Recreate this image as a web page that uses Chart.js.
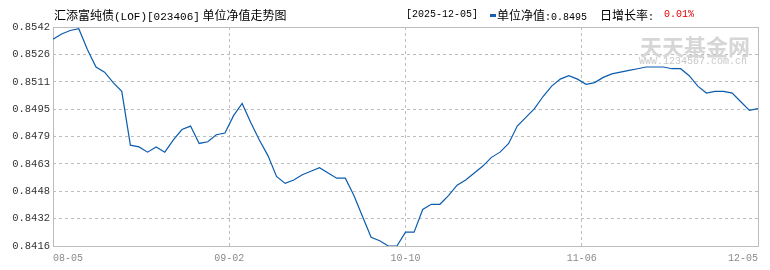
<!DOCTYPE html>
<html>
<head>
<meta charset="utf-8">
<script src="https://cdn.jsdelivr.net/npm/chart.js@4/dist/chart.umd.min.js"></script>
<style>
  html, body { margin: 0; padding: 0; background: #fff; }
  #wrap { position: relative; width: 770px; height: 270px; overflow: hidden; }
  #c { position: absolute; left: 0; top: 0; }
  .t { position: absolute; white-space: pre; font-family: "Noto Sans CJK SC", sans-serif; font-size: 12px; line-height: 12px; color: #000; }
  .m { font-family: "Liberation Mono", monospace; }
</style>
</head>
<body>
<div id="wrap">
  <canvas id="c" width="770" height="270"></canvas>
  <div class="t" style="left:640px;top:33px;font-size:22px;line-height:24px;font-weight:bold;color:#d6d6d6;">天天基金网</div>
  <div class="t m" style="left:639px;top:57px;font-size:10px;line-height:10px;color:#c8c8c8;">WWW.1234567.com.cn</div>
  <div class="t" style="left:54px;top:9px;">汇添富纯债<span class="m" style="font-size:11px;">(LOF)[023406]</span> 单位净值走势图</div>
  <div class="t m" style="left:406px;top:9px;font-size:10px;">[2025-12-05]</div>
  <div style="position:absolute;left:490px;top:14px;width:6px;height:3px;background:#1a5eb0;"></div>
  <div class="t" style="left:497px;top:9px;">单位净值<span class="m" style="font-size:10px;">:0.8495</span></div>
  <div class="t" style="left:600px;top:9px;">日增长率<span class="m" style="font-size:10px;">:</span></div>
  <div class="t m" style="left:664px;top:9px;font-size:10px;color:#e00000;">0.01%</div>
</div>
<script>
const navValues = [
  0.8535, 0.8538, 0.8540, 0.8541, 0.8529, 0.8519, 0.8516, 0.8510, 0.8505, 0.8474,
  0.8473, 0.8470, 0.8473, 0.8470, 0.8477, 0.8483, 0.8485, 0.8475, 0.8476, 0.8480,
  0.8481, 0.8491, 0.8498, 0.8487, 0.8477, 0.8468, 0.8456, 0.8452, 0.8454, 0.8457,
  0.8459, 0.8461, 0.8458, 0.8455, 0.8455, 0.8445, 0.8433, 0.8421, 0.8419, 0.8416,
  0.8416, 0.8424, 0.8424, 0.8437, 0.8440, 0.8440, 0.8445, 0.8451, 0.8454, 0.8458,
  0.8462, 0.8467, 0.8470, 0.8475, 0.8485, 0.8490, 0.8495, 0.8502, 0.8508, 0.8512,
  0.8514, 0.8512, 0.8509, 0.8510, 0.8513, 0.8515, 0.8516, 0.8517, 0.8518, 0.8519,
  0.8519, 0.8519, 0.8518, 0.8518, 0.8514, 0.8508, 0.8504, 0.8505, 0.8505, 0.8504,
  0.8499, 0.8494, 0.8495
];
const xTickLabels = ['08-05', '09-02', '10-10', '11-06', '12-05'];
const yTickLabels = ['0.8416', '0.8432', '0.8448', '0.8463', '0.8479', '0.8495', '0.8511', '0.8526', '0.8542'];

const n = navValues.length;
const yMin = parseFloat(yTickLabels[0]);
const yMax = parseFloat(yTickLabels[yTickLabels.length - 1]);
const points = navValues.map((v, i) => ({ x: i, y: v }));

const borderPlugin = {
  id: 'frame',
  beforeDatasetsDraw(chart) {
    const { ctx, chartArea: a } = chart;
    ctx.save();
    ctx.strokeStyle = '#bdbdbd';
    ctx.lineWidth = 1;
    ctx.setLineDash([]);
    ctx.strokeRect(Math.round(a.left) + 0.5, Math.round(a.top) + 0.5,
      Math.round(a.right - a.left), Math.round(a.bottom - a.top));
    ctx.restore();
  }
};

Chart.defaults.font.family = '"Liberation Mono", monospace';
Chart.defaults.font.size = 10;

new Chart(document.getElementById('c'), {
  type: 'line',
  data: {
    datasets: [{
      data: points,
      borderColor: '#0b5cad',
      borderWidth: 1.2,
      pointRadius: 0,
      tension: 0,
      fill: false
    }]
  },
  options: {
    responsive: false,
    animation: false,
    devicePixelRatio: 1,
    layout: { padding: { top: 27, right: 12, left: 0, bottom: 0 } },
    plugins: { legend: { display: false }, tooltip: { enabled: false }, title: { display: false } },
    scales: {
      x: {
        type: 'linear',
        min: 0,
        max: n - 1,
        afterBuildTicks(scale) {
          const k = xTickLabels.length - 1;
          scale.ticks = xTickLabels.map((_, j) => ({ value: j * (n - 1) / k }));
        },
        afterFit(scale) { scale.height = 24; },
        border: { display: false, dash: [3, 3] },
        grid: {
          drawTicks: false,
          color: (c) => (c.index === 0 || c.index === xTickLabels.length - 1) ? 'rgba(0,0,0,0)' : '#bdbdbd',
          lineWidth: 1
        },
        ticks: {
          autoSkip: false,
          maxRotation: 0,
          align: 'inner',
          padding: 6,
          color: '#8a8a8a',
          font: { size: 10 },
          callback: (v, i) => xTickLabels[i]
        }
      },
      y: {
        type: 'linear',
        min: yMin,
        max: yMax,
        afterBuildTicks(scale) {
          const k = yTickLabels.length - 1;
          scale.ticks = yTickLabels.map((_, j) => ({ value: yMin + j * (yMax - yMin) / k }));
        },
        afterFit(scale) { scale.width = 53; },
        border: { display: false, dash: [3, 3] },
        grid: {
          drawTicks: false,
          color: (c) => (c.index === 0 || c.index === yTickLabels.length - 1) ? 'rgba(0,0,0,0)' : '#bdbdbd',
          lineWidth: 1
        },
        ticks: {
          padding: 3,
          color: '#333',
          font: { size: 10.5 },
          callback: (v, i) => yTickLabels[i]
        }
      }
    }
  },
  plugins: [borderPlugin]
});
</script>
</body>
</html>
